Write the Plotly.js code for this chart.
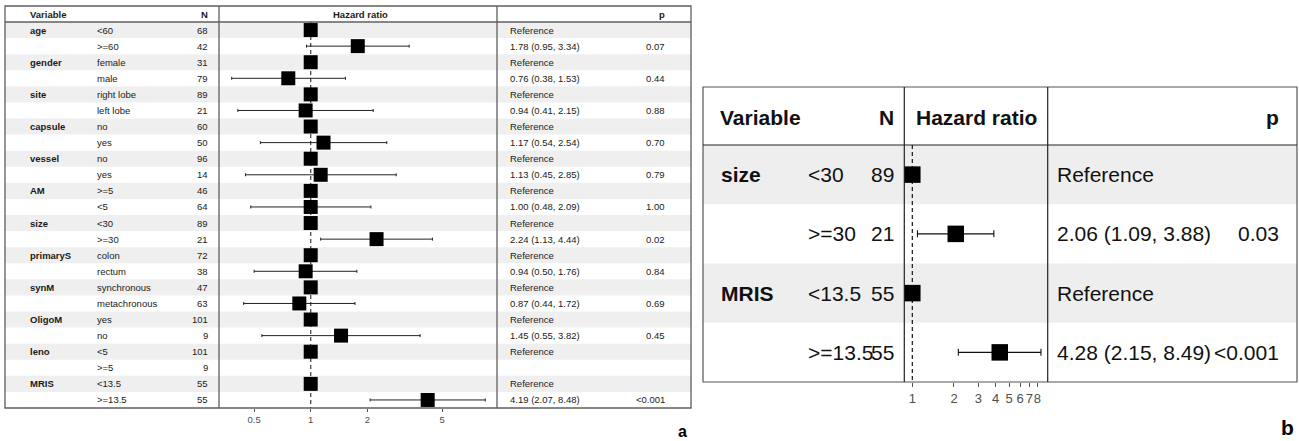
<!DOCTYPE html>
<html>
<head>
<meta charset="utf-8">
<script src="https://cdn.plot.ly/plotly-3.0.1.min.js"></script>
<style>html,body{margin:0;padding:0;background:#fff;}#chart{width:1299px;height:441px;}</style>
</head>
<body>
<div id="chart"></div>
<script>
// ---------- Panel a data ----------
const variablesA = ['age','gender','site','capsule','vessel','AM','size','primaryS','synM','OligoM','leno','MRIS'];
const levelsA = ['<60','>=60','female','male','right lobe','left lobe','no','yes','no','yes','>=5','<5','<30','>=30','colon','rectum','synchronous','metachronous','yes','no','<5','>=5','<13.5','>=13.5'];
const nA = [68,42,31,79,89,21,60,50,96,14,46,64,89,21,72,38,47,63,101,9,101,9,55,55];
const hrA = [1,1.78,1,0.76,1,0.94,1,1.17,1,1.13,1,1.00,1,2.24,1,0.94,1,0.87,1,1.45,1,null,1,4.19];
const loA = [null,0.95,null,0.38,null,0.41,null,0.54,null,0.45,null,0.48,null,1.13,null,0.50,null,0.44,null,0.55,null,null,null,2.07];
const hiA = [null,3.34,null,1.53,null,2.15,null,2.54,null,2.85,null,2.09,null,4.44,null,1.76,null,1.72,null,3.82,null,null,null,8.48];
const pA = ['','0.07','','0.44','','0.88','','0.70','','0.79','','1.00','','0.02','','0.84','','0.69','','0.45','','','','<0.001'];
const ticksA = [0.5,1,2,5];
const tickLabelsA = ['0.5','1','2','5'];

// ---------- Panel b data ----------
const variablesB = ['size','MRIS'];
const levelsB = ['<30','>=30','<13.5','>=13.5'];
const nB = [89,21,55,55];
const hrB = [1,2.06,1,4.28];
const loB = [null,1.09,null,2.15];
const hiB = [null,3.88,null,8.49];
const pB = ['','0.03','','<0.001'];
const ticksB = [1,2,3,4,5,6,7,8];
const tickLabelsB = ['1','2','3','4','5','6','7','8'];

const W = 1299, H = 441;
const px = x => x / W;
const py = y => 1 - y / H;
const FONT = 'Liberation Sans, Arial, sans-serif';

function estText(hr, lo, hi) {
  if (hr === null) return '';
  if (lo === null) return 'Reference';
  return hr.toFixed(2) + ' (' + lo.toFixed(2) + ', ' + hi.toFixed(2) + ')';
}

const shapes = [];
const annotations = [];

function rect(x0, y0, x1, y1, color, width, layer) {
  shapes.push({type:'rect', xref:'paper', yref:'paper', x0:px(x0), x1:px(x1), y0:py(y1), y1:py(y0),
    line:{color:color, width:width}, fillcolor:'rgba(0,0,0,0)', layer:layer||'above'});
}
function hline(x0, x1, y, color, width) {
  shapes.push({type:'line', xref:'paper', yref:'paper', x0:px(x0), x1:px(x1), y0:py(y), y1:py(y),
    line:{color:color, width:width}, layer:'above'});
}
function vline(x, y0, y1, color, width) {
  shapes.push({type:'line', xref:'paper', yref:'paper', x0:px(x), x1:px(x), y0:py(y0), y1:py(y1),
    line:{color:color, width:width}, layer:'above'});
}
function txt(x, y, yref, s, anchor, size, bold, color) {
  annotations.push({xref:'paper', yref:yref, x:px(x), y:y, text: bold ? '<b>'+s+'</b>' : s,
    xanchor:anchor, yanchor:'middle', showarrow:false,
    font:{family:FONT, size:size, color:color}});
}

// ---------- Panel a layout pieces ----------
const A = {left:5, right:691, top:6, head:22, bottom:408, d1:219, d2:497};
const rowsA = levelsA.map((_, i) => i + 1);
rowsA.forEach(r => {
  if (r % 2 === 1) {
    shapes.push({type:'rect', xref:'paper', yref:'y', x0:px(A.left), x1:px(A.right), y0:r-0.5, y1:r+0.5,
      fillcolor:'#EFEFEF', line:{width:0}, layer:'below'});
  }
});
rect(A.left, A.top, A.right, A.bottom, '#5f5f5f', 1.3);
hline(A.left, A.right, A.head, '#5f5f5f', 1.3);
vline(A.d1, A.top, A.bottom, '#5f5f5f', 1.3);
vline(A.d2, A.top, A.bottom, '#5f5f5f', 1.3);

const fsA = 9.5, colA = '#1a1a1a';
txt(28, py(14.5), 'paper', 'Variable', 'left', fsA, true, colA);
txt(210, py(14.5), 'paper', 'N', 'right', fsA, true, colA);
txt((A.d1 + A.d2) / 2 + 2, py(14.5), 'paper', 'Hazard ratio', 'center', fsA, true, colA);
txt(667, py(14.5), 'paper', 'p', 'right', fsA, true, colA);
variablesA.forEach((v, i) => txt(28, 2 * i + 1, 'y', v, 'left', fsA, true, colA));
levelsA.forEach((l, i) => {
  txt(95, i + 1, 'y', l, 'left', fsA, false, colA);
  txt(210, i + 1, 'y', String(nA[i]), 'right', fsA, false, colA);
  txt(508, i + 1, 'y', estText(hrA[i], loA[i], hiA[i]), 'left', fsA, false, colA);
  txt(667, i + 1, 'y', pA[i], 'right', fsA, false, colA);
});

// ---------- Panel b layout pieces ----------
const B = {left:703, right:1297, top:87, head:145, bottom:382, d1:904.3, d2:1047.7};
const rowsB = levelsB.map((_, i) => i + 1);
rowsB.forEach(r => {
  if (r % 2 === 1) {
    shapes.push({type:'rect', xref:'paper', yref:'y2', x0:px(B.left), x1:px(B.right), y0:r-0.5, y1:r+0.5,
      fillcolor:'#EEEEEE', line:{width:0}, layer:'below'});
  }
});
rect(B.left, B.top, B.right, B.bottom, '#555555', 1.2);
hline(B.left, B.right, B.head, '#222222', 1.2);
vline(B.d1, B.top, B.bottom, '#222222', 1.2);
vline(B.d2, B.top, B.bottom, '#222222', 1.2);

const fsB = 21, colB = '#111111';
txt(718, py(117), 'paper', 'Variable', 'left', fsB, true, colB);
txt(896, py(117), 'paper', 'N', 'right', fsB, true, colB);
txt((B.d1 + B.d2) / 2, py(117), 'paper', 'Hazard ratio', 'center', fsB, true, colB);
txt(1281, py(117), 'paper', 'p', 'right', fsB, true, colB);
variablesB.forEach((v, i) => txt(719, 2 * i + 1, 'y2', v, 'left', fsB, true, colB));
levelsB.forEach((l, i) => {
  txt(806, i + 1, 'y2', l, 'left', fsB, false, colB);
  txt(896, i + 1, 'y2', String(nB[i]), 'right', fsB, false, colB);
  txt(1055, i + 1, 'y2', estText(hrB[i], loB[i], hiB[i]), 'left', fsB, false, colB);
  txt(1281, i + 1, 'y2', pB[i], 'right', fsB, false, colB);
});

// panel letters
txt(683, py(431), 'paper', 'a', 'center', 16, true, '#000');
txt(1287, py(427), 'paper', 'b', 'center', 21, true, '#000');

// ---------- traces ----------
function errs(hr, lo, hi) {
  return {
    plus: hr.map((h, i) => (h === null || hi[i] === null) ? 0 : hi[i] - h),
    minus: hr.map((h, i) => (h === null || lo[i] === null) ? 0 : h - lo[i])
  };
}
const eA = errs(hrA, loA, hiA);
const eB = errs(hrB, loB, hiB);

const traces = [
  {x:[1,1], y:[0.5, levelsA.length + 0.5], xaxis:'x', yaxis:'y', mode:'lines', cliponaxis:false,
   line:{color:'#4a4a4a', width:1.3, dash:'4px,3px'}, hoverinfo:'skip', showlegend:false},
  {x:hrA, y:rowsA, xaxis:'x', yaxis:'y', mode:'markers', type:'scatter', cliponaxis:false,
   marker:{symbol:'square', size:14, color:'#000'},
   error_x:{type:'data', symmetric:false, array:eA.plus, arrayminus:eA.minus, color:'#222', thickness:1, width:1.5},
   hoverinfo:'skip', showlegend:false},
  {x:[1,1], y:[0.5, levelsB.length + 0.5], xaxis:'x2', yaxis:'y2', mode:'lines', cliponaxis:false,
   line:{color:'#111', width:1.2, dash:'4px,3px'}, hoverinfo:'skip', showlegend:false},
  {x:hrB, y:rowsB, xaxis:'x2', yaxis:'y2', mode:'markers', type:'scatter', cliponaxis:false,
   marker:{symbol:'square', size:16.5, color:'#000'},
   error_x:{type:'data', symmetric:false, array:eB.plus, arrayminus:eB.minus, color:'#111', thickness:1.1, width:3.5},
   hoverinfo:'skip', showlegend:false}
];

const layout = {
  width: W, height: H, autosize:false,
  margin:{l:0, r:0, t:0, b:0, pad:0},
  paper_bgcolor:'#ffffff', plot_bgcolor:'rgba(0,0,0,0)',
  showlegend:false,
  xaxis:{domain:[px(A.d1), px(A.d2)], type:'log', range:[(A.d1 - 310.7) / 188, (A.d2 - 310.7) / 188],
    tickvals:ticksA, ticktext:tickLabelsA, ticks:'outside', ticklen:3, tickcolor:'#555', tickwidth:1, tickangle:0,
    tickfont:{family:FONT, size:9.5, color:'#4D4D4D'}, showgrid:false, zeroline:false, showline:false,
    anchor:'y', fixedrange:true},
  yaxis:{domain:[py(A.bottom), py(A.head)], range:[levelsA.length + 0.5, 0.5], showticklabels:false,
    ticks:'', showgrid:false, zeroline:false, showline:false, anchor:'x', fixedrange:true},
  xaxis2:{domain:[px(B.d1), px(B.d2)], type:'log', range:[(B.d1 - 912.3) / 138.5, (B.d2 - 912.3) / 138.5],
    tickvals:ticksB, ticktext:tickLabelsB, ticks:'outside', ticklen:4, tickcolor:'#555', tickwidth:1, tickangle:0,
    tickfont:{family:FONT, size:13, color:'#4D4D4D'}, showgrid:false, zeroline:false, showline:false,
    anchor:'y2', fixedrange:true},
  yaxis2:{domain:[py(B.bottom), py(B.head)], range:[levelsB.length + 0.5, 0.5], showticklabels:false,
    ticks:'', showgrid:false, zeroline:false, showline:false, anchor:'x2', fixedrange:true},
  shapes: shapes,
  annotations: annotations
};

Plotly.newPlot('chart', traces, layout, {staticPlot:true, displayModeBar:false});
</script>
</body>
</html>
